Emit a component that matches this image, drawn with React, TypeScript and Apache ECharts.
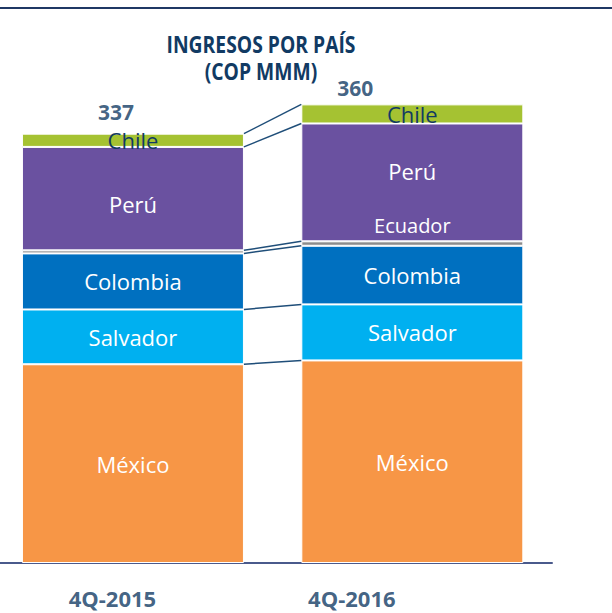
import React, { useEffect, useRef } from "react";
import * as echarts from "echarts";

const categories = ["4Q-2015", "4Q-2016"];
const countries = ["México", "Salvador", "Colombia", "Ecuador", "Perú", "Chile"];
const mexico = [156, 159];
const salvador = [43, 44];
const colombia = [44, 46];
const ecuador = [2.4, 3.5];
const peru = [81.2, 92.5];
const chile = [10.4, 15];
const totals = [337, 360];
const titleLines = ["INGRESOS POR PAÍS", "(COP MMM)"];

const NAVY = "#113A63";
const colors = ["#F79646", "#00B0F0", "#0070C0", "#8C8C8C", "#6A51A0", "#A5C232"];
const BAR_W = 222;

export default function App() {
  const ref = useRef<HTMLDivElement>(null);
  useEffect(() => {
    if (!ref.current) return;
    const chart = echarts.init(ref.current, undefined, { renderer: "svg" });
    const seriesData = [mexico, salvador, colombia, ecuador, peru, chile];

    const cum: number[][] = [];
    for (let i = 0; i < categories.length; i++) {
      let s = 0;
      const arr: number[] = [];
      for (const d of seriesData) {
        s += d[i];
        arr.push(s);
      }
      cum.push(arr);
    }
    const connectorData = cum[0].map((v, k) => [0, v, cum[1][k]]);

    const fontMain = "'Open Sans', 'DejaVu Sans', sans-serif";

    const labelOffsets: Record<string, number[][]> = {
      "Perú": [
        [0, 5],
        [0, -11],
      ],
    };

    const barSeries = countries.map((name, idx) => {
      const isChile = name === "Chile";
      const isEcuador = name === "Ecuador";
      return {
        name,
        type: "bar",
        stack: "total",
        barWidth: BAR_W,
        itemStyle: { color: colors[idx], borderColor: "#ffffff", borderWidth: 1 },
        label: {
          show: !isEcuador,
          position: "inside",
          formatter: name,
          color: isChile ? NAVY : "#ffffff",
          fontSize: 22,
          fontFamily: fontMain,
        },
        data: seriesData[idx].map((v, i) => {
          if (isEcuador) {
            return {
              value: v,
              label: {
                show: i === 1,
                position: "top",
                distance: 6,
                formatter: name,
                color: "#ffffff",
                fontSize: 20,
                fontFamily: fontMain,
              },
            };
          }
          if (labelOffsets[name]) {
            return { value: v, label: { offset: labelOffsets[name][i] } };
          }
          return v;
        }),
        z: 2,
      };
    });

    const totalOffsets = [
      [-17, -22],
      [-57, -16],
    ];
    const catOffsets = [
      [-20.5, 35],
      [-60.5, 35],
    ];

    chart.setOption({
      animation: false,
      grid: {
        left: -6.75,
        right: 60,
        top: 53.4,
        bottom: 50,
        containLabel: false,
        outerBoundsMode: "none",
      },
      xAxis: {
        type: "category",
        data: categories,
        axisLine: { show: true, lineStyle: { color: "#4A5A8C", width: 2 } },
        axisTick: { show: false },
        axisLabel: { show: false },
        splitLine: { show: false },
      },
      yAxis: { type: "value", min: 0, max: 400, show: false, splitLine: { show: false } },
      series: [
        ...barSeries,
        {
          name: "connectors",
          type: "custom",
          encode: { x: 0, y: 1 },
          data: connectorData,
          z: 3,
          renderItem: (params: any, api: any) => {
            const a = api.coord([0, api.value(1)]);
            const b = api.coord([1, api.value(2)]);
            const half = BAR_W / 2;
            return {
              type: "line",
              shape: { x1: a[0] + half, y1: a[1], x2: b[0] - half, y2: b[1] },
              style: { stroke: "#1F4E79", lineWidth: 1.5 },
            };
          },
        },
        {
          name: "totals",
          type: "scatter",
          symbolSize: 0,
          z: 4,
          label: {
            show: true,
            position: "inside",
            color: NAVY,
            fontWeight: "bold",
            fontSize: 21,
            fontFamily: fontMain,
            formatter: (p: any) => String(p.value[1]),
          },
          data: totals.map((t, i) => ({
            value: [i, t],
            label: { offset: totalOffsets[i] },
          })),
        },
        {
          name: "categories",
          type: "scatter",
          symbolSize: 0,
          z: 4,
          clip: false,
          label: {
            show: true,
            position: "inside",
            color: NAVY,
            fontWeight: "bold",
            fontSize: 22,
            fontFamily: fontMain,
            formatter: (p: any) => categories[p.dataIndex],
          },
          data: categories.map((c, i) => ({
            value: [i, 0],
            label: { offset: catOffsets[i] },
          })),
        },
      ],
      graphic: [
        {
          type: "line",
          shape: { x1: 0, y1: 8, x2: 612, y2: 8 },
          style: { stroke: "#1F3864", lineWidth: 2 },
        },
        {
          type: "text",
          x: 261,
          y: 30,
          scaleX: 0.84,
          style: {
            text: titleLines.join("\n"),
            textAlign: "center",
            fill: NAVY,
            fontWeight: "bold",
            fontSize: 23,
            lineHeight: 27,
            fontFamily: fontMain,
          },
        },
      ],
    });
    return () => chart.dispose();
  }, []);
  return (
    <div
      ref={ref}
      style={{ position: "fixed", left: 0, top: 0, width: 612, height: 613, background: "#fff" }}
    />
  );
}
